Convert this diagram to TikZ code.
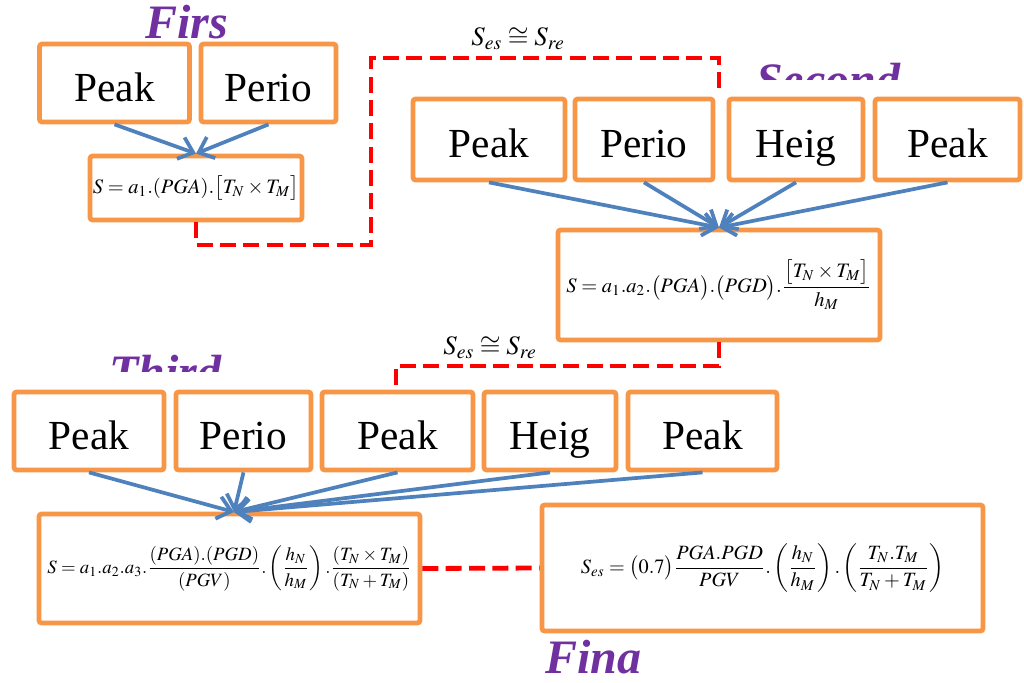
\documentclass[tikz,border=0pt]{standalone}
\usepackage{amsmath}
\usepackage{mathptmx}
\usepackage{fontspec}
\setmainfont{Liberation Serif}
\usetikzlibrary{arrows.meta}
\definecolor{boxorange}{HTML}{F79646}
\definecolor{arrowblue}{HTML}{4F81BD}
\definecolor{titlepurple}{HTML}{7030A0}
\definecolor{dashred}{HTML}{FF0000}
\begin{document}
\begin{tikzpicture}[x=0.75pt,y=-0.75pt,
  wordbox/.style={draw=boxorange,line width=3.6pt,rounded corners=2pt,fill=white,inner sep=0pt,
    font=\fontsize{31}{36}\selectfont,text height=29pt,text depth=2pt},
  eqbox/.style={draw=boxorange,line width=3.6pt,rounded corners=2pt,fill=white,inner sep=0pt},
  titletext/.style={text=titlepurple,font=\fontsize{36}{40}\selectfont\bfseries\itshape,inner sep=0pt},
  eqlabel/.style={inner sep=0pt,font=\fontsize{20}{24}\selectfont},
  arrowline/.style={draw=arrowblue,line width=2.8pt,-{Straight Barb[length=10pt,width=17pt]}},
  reddash/.style={draw=dashred,line width=3.6pt,dash pattern=on 12pt off 5.5pt}
]
\useasboundingbox (0,0) rectangle (1024,682);

% ---- titles
\node[titletext,anchor=base west] (t1) at (145,38) {Firs};
\begin{scope}
  \clip (740,40) rectangle (930,79);
  \node[titletext,anchor=base west] (t2) at (756,96) {Second};
\end{scope}
\begin{scope}
  \clip (95,340) rectangle (245,371);
  \node[titletext,anchor=base west] (t3) at (109,388) {Third};
\end{scope}
\node[titletext,anchor=base west] (t4) at (545,673) {Fina};

% ---- first stage
\node[wordbox,minimum width=112.5pt,minimum height=58.5pt] (p1a) at (114.5,83) {Peak};
\node[wordbox,minimum width=101.25pt,minimum height=58.5pt] (p1b) at (268.5,83) {Perio};
\node[eqbox,minimum width=159pt,minimum height=48pt] (f1) at (196,188)
  {\resizebox{154.5pt}{!}{$S=a_1.(PGA).\bigl[T_N\times T_M\bigr]$}};
\draw[arrowline] (p1a.south) -- (f1.north);
\draw[arrowline] (p1b.south) -- (f1.north);

% ---- second stage
\node[wordbox,minimum width=114pt,minimum height=60.75pt] (p2a) at (489,139.5) {Peak};
\node[wordbox,minimum width=103.5pt,minimum height=60.75pt] (p2b) at (644,139.5) {Perio};
\node[wordbox,minimum width=100.5pt,minimum height=60.75pt] (p2c) at (796,139.5) {Heig};
\node[wordbox,minimum width=108.75pt,minimum height=60.75pt] (p2d) at (947.5,139.5) {Peak};
\node[eqbox,minimum width=241.5pt,minimum height=82.5pt] (f2) at (719,285)
  {\resizebox{228.75pt}{!}{$S=a_1.a_2.\bigl(PGA\bigr).\bigl(PGD\bigr).\dfrac{\bigl[T_N\times T_M\bigr]}{h_M}$}};
\draw[arrowline] (p2a.south) -- (f2.north);
\draw[arrowline] (p2b.south) -- (f2.north);
\draw[arrowline] (p2c.south) -- (f2.north);
\draw[arrowline] (p2d.south) -- (f2.north);

% ---- third stage
\node[wordbox,minimum width=112.5pt,minimum height=58.5pt] (p3a) at (89,431) {Peak};
\node[wordbox,minimum width=101.25pt,minimum height=58.5pt] (p3b) at (243.5,431) {Perio};
\node[wordbox,minimum width=113.25pt,minimum height=58.5pt] (p3c) at (397.5,431) {Peak};
\node[wordbox,minimum width=99pt,minimum height=58.5pt] (p3d) at (550,431) {Heig};
\node[wordbox,minimum width=111.75pt,minimum height=58.5pt] (p3e) at (702.5,431) {Peak};
\node[eqbox,minimum width=285.75pt,minimum height=81.75pt] (f3) at (229.5,568.5)
  {\resizebox{273pt}{!}{$S=a_1.a_2.a_3.\dfrac{(PGA).(PGD)}{(PGV)}.\left(\dfrac{h_N}{h_M}\right).\dfrac{(T_N\times T_M)}{(T_N+T_M)}$}};
\coordinate (f3in) at (234,512);
\draw[arrowline] (p3a.south) -- (f3in);
\draw[arrowline] (p3b.south) -- (f3in);
\draw[arrowline] (p3c.south) -- (f3in);
\draw[arrowline] (p3d.south) -- (f3in);
\draw[arrowline] (p3e.south) -- (f3in);

% ---- final
\node[eqbox,minimum width=330.75pt,minimum height=94.5pt] (fin) at (762.5,568)
  {\resizebox{272.25pt}{!}{$S_{es}=\bigl(0.7\bigr)\dfrac{PGA.PGD}{PGV}.\left(\dfrac{h_N}{h_M}\right).\left(\dfrac{T_N.T_M}{T_N+T_M}\right)$}};

% ---- red dashed links
\coordinate (d1end) at (719,90);
\draw[reddash] (f1.south) |- (371,245) |- (719,58) -- (d1end);
\node[eqlabel] (l1) at (518,39) {$S_{es}\cong S_{re}$};
\coordinate (d2end) at (396,389);
\draw[reddash] (f2.south) |- (396,366) -- (d2end);
\node[eqlabel] (l2) at (490,348) {$S_{es}\cong S_{re}$};
\draw[reddash] (f3.east) -- (fin.west);
\end{tikzpicture}
\end{document}
